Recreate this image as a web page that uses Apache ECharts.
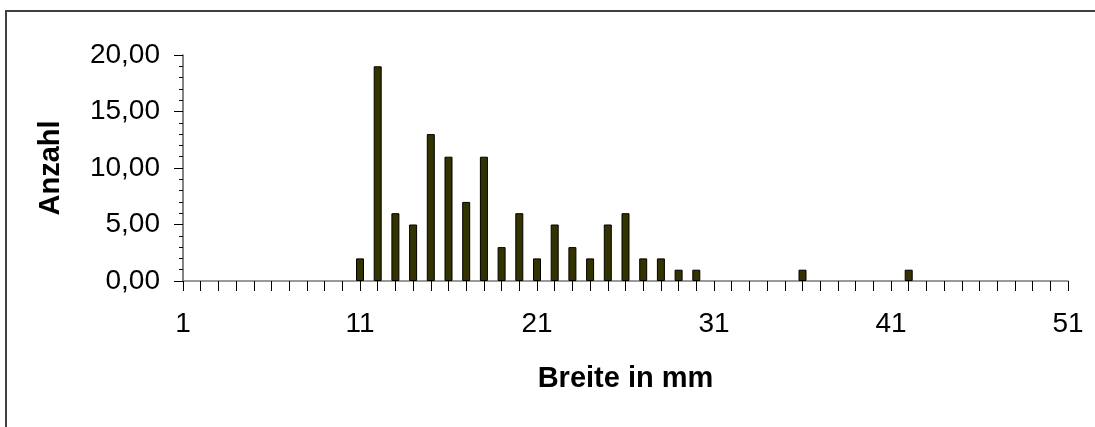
<!DOCTYPE html>
<html>
<head>
<meta charset="utf-8">
<title>Breite in mm</title>
<script src="https://cdn.jsdelivr.net/npm/echarts@6/dist/echarts.min.js"></script>
<style>
  html, body { margin: 0; padding: 0; background: #ffffff; overflow: hidden; }
  #chart { width: 1095px; height: 427px; }
</style>
</head>
<body>
<div id="chart"></div>
<script>
// Width classes (mm) that have at least one specimen, and their counts
const breite = [11, 12, 13, 14, 15, 16, 17, 18, 19, 20, 21, 22, 23, 24, 25, 26, 27, 28, 29, 30, 36, 42];
const anzahl = [2, 19, 6, 5, 13, 11, 7, 11, 3, 6, 2, 5, 3, 2, 5, 6, 2, 2, 1, 1, 1, 1];

// Axis extents and labelled ticks
const xMin = 1, xMax = 51;
const xTickLabels = [1, 11, 21, 31, 41, 51];
const yTickLabels = [0, 5, 10, 15, 20];

const FONT = '"Liberation Sans", Arial, sans-serif';

const chart = echarts.init(document.getElementById('chart'), null, { renderer: 'canvas' });

chart.setOption({
  animation: false,
  backgroundColor: '#ffffff',
  // Chart-area frame: only the top and left edges fall inside the page
  graphic: [
    {
      type: 'line',
      shape: { x1: 5, y1: 11, x2: 1095, y2: 11 },
      style: { stroke: '#404040', lineWidth: 2 },
      silent: true
    },
    {
      type: 'line',
      shape: { x1: 6, y1: 10, x2: 6, y2: 427 },
      style: { stroke: '#404040', lineWidth: 2 },
      silent: true
    }
  ],
  grid: { left: 183, right: 27, top: 55, bottom: 146 },
  xAxis: {
    type: 'value',
    min: xMin,
    max: xMax,
    interval: 1,
    name: 'Breite in mm',
    nameLocation: 'middle',
    nameGap: 83,
    nameTextStyle: { fontFamily: FONT, fontSize: 29, fontWeight: 'bold', color: '#000' },
    axisLine: { show: true, lineStyle: { color: '#7a7a7a', width: 1.5 } },
    axisTick: { show: true, length: 10, lineStyle: { color: '#000', width: 1 } },
    axisLabel: {
      fontFamily: FONT, fontSize: 28, color: '#000', margin: 29,
      formatter: v => (xTickLabels.indexOf(v) >= 0 ? String(v) : '')
    },
    splitLine: { show: false }
  },
  yAxis: {
    type: 'value',
    min: 0,
    max: 20,
    interval: 5,
    name: 'Anzahl',
    nameLocation: 'middle',
    nameGap: 118,
    nameRotate: 90,
    nameTextStyle: { fontFamily: FONT, fontSize: 29, fontWeight: 'bold', color: '#000' },
    axisLine: { show: true, lineStyle: { color: '#5a5a5a', width: 1.5 } },
    axisTick: { show: true, length: 9, lineStyle: { color: '#000', width: 1 } },
    minorTick: { show: true, splitNumber: 5, length: 4, lineStyle: { color: '#000', width: 1 } },
    axisLabel: {
      fontFamily: FONT, fontSize: 28, color: '#000', margin: 23,
      formatter: v => (yTickLabels.indexOf(v) >= 0 ? v.toFixed(2).replace('.', ',') : '')
    },
    splitLine: { show: false },
    minorSplitLine: { show: false }
  },
  series: [{
    type: 'bar',
    data: breite.map((b, i) => [b, anzahl[i]]),
    barWidth: 8,
    itemStyle: { color: '#333300', borderColor: '#000000', borderWidth: 1 }
  }]
});
</script>
</body>
</html>
